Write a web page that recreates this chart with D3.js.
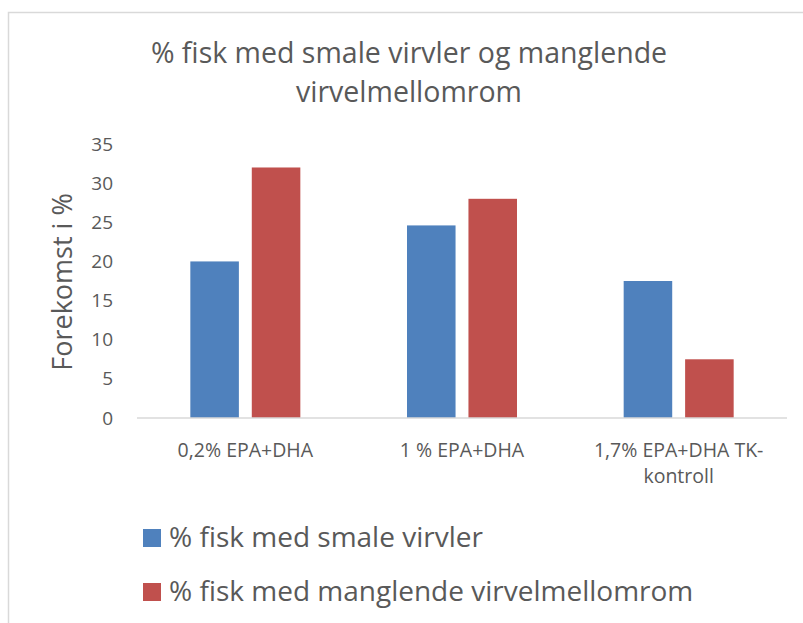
<!DOCTYPE html>
<html>
<head>
<meta charset="utf-8">
<script src="https://cdn.jsdelivr.net/npm/d3@7"></script>
<style>
  body { margin: 0; background: #fff; }
  text { font-family: "Open Sans", sans-serif; fill: #595959; }
</style>
</head>
<body>
<div id="chart"></div>
<script>
const categories = [["0,2% EPA+DHA"], ["1 % EPA+DHA"], ["1,7% EPA+DHA TK-", "kontroll"]];
const seriesNames = ["% fisk med smale virvler", "% fisk med manglende virvelmellomrom"];
const smale = [20, 24.6, 17.5];
const manglende = [32, 28, 7.5];
const yTicks = [0, 5, 10, 15, 20, 25, 30, 35];
const titleLines = ["% fisk med smale virvler og manglende", "virvelmellomrom"];
const colors = ["#4f81bd", "#c0504d"];

const width = 803, height = 623;
const margin = { left: 137, right: 16, top: 144, bottom: 205 };

const svg = d3.select("#chart").append("svg")
    .attr("width", width)
    .attr("height", height);

// chart frame (only left and top edges are visible in the crop)
svg.append("path")
    .attr("d", `M8.5,${height}V12.5H${width}`)
    .attr("fill", "none")
    .attr("stroke", "#d9d9d9")
    .attr("stroke-width", 1.5);

const rows = categories.map((c, i) => ({ cat: c, i, vals: [smale[i], manglende[i]] }));

const x0 = d3.scaleBand()
    .domain(d3.range(categories.length))
    .range([margin.left, width - margin.right]);

const x1 = d3.scaleBand()
    .domain(d3.range(seriesNames.length))
    .range([0, 110])
    .paddingInner(0.21);

const y = d3.scaleLinear()
    .domain([0, 35])
    .range([height - margin.bottom, margin.top]);

// title
svg.append("text")
    .attr("text-anchor", "middle")
    .style("font-size", "28.5px")
    .selectAll("tspan")
    .data(titleLines)
    .join("tspan")
        .attr("x", 409)
        .attr("y", (d, i) => 63 + i * 39)
        .text(d => d);

// y axis labels, no line
const yAxis = svg.append("g")
    .attr("transform", `translate(113,0)`)
    .call(d3.axisLeft(y).tickValues(yTicks).tickSize(0).tickPadding(0));
yAxis.select(".domain").remove();
yAxis.selectAll("text")
    .style("font-size", "19px")
    .attr("fill", "#595959");

svg.append("text")
    .attr("transform", `translate(72,${y(17.5) + 1}) rotate(-90)`)
    .attr("text-anchor", "middle")
    .style("font-size", "27px")
    .text("Forekomst i %");

// bars
const groups = svg.append("g")
    .selectAll("g")
    .data(rows)
    .join("g")
        .attr("transform", d => `translate(${x0(d.i) + (x0.bandwidth() - 110) / 2},0)`);

groups.selectAll("rect")
    .data(d => d.vals.map((v, k) => ({ v, k })))
    .join("rect")
        .attr("x", d => x1(d.k))
        .attr("width", x1.bandwidth())
        .attr("y", d => y(d.v))
        .attr("height", d => y(0) - y(d.v))
        .attr("fill", d => colors[d.k]);

// category axis
const xAxis = svg.append("g")
    .attr("transform", `translate(0,${y(0)})`);
xAxis.append("line")
    .attr("x1", x0.range()[0])
    .attr("x2", x0.range()[1])
    .attr("stroke", "#d9d9d9")
    .attr("stroke-width", 1.5);

xAxis.selectAll("text.cat")
    .data(rows)
    .join("text")
        .attr("class", "cat")
        .attr("text-anchor", "middle")
        .style("font-size", "19.5px")
        .selectAll("tspan")
        .data(d => d.cat.map(t => ({ t, i: d.i })))
        .join("tspan")
            .attr("x", d => x0(d.i) + x0.bandwidth() / 2)
            .attr("y", (d, j) => 39 + j * 26)
            .text(d => d.t);

// legend
const legend = svg.append("g")
    .selectAll("g")
    .data(seriesNames)
    .join("g")
        .attr("transform", (d, i) => `translate(143,${529 + i * 54})`);

legend.append("rect")
    .attr("width", 18)
    .attr("height", 18)
    .attr("fill", (d, i) => colors[i]);

legend.append("text")
    .attr("x", 26)
    .attr("y", 18)
    .style("font-size", "28px")
    .text(d => d);
</script>
</body>
</html>
